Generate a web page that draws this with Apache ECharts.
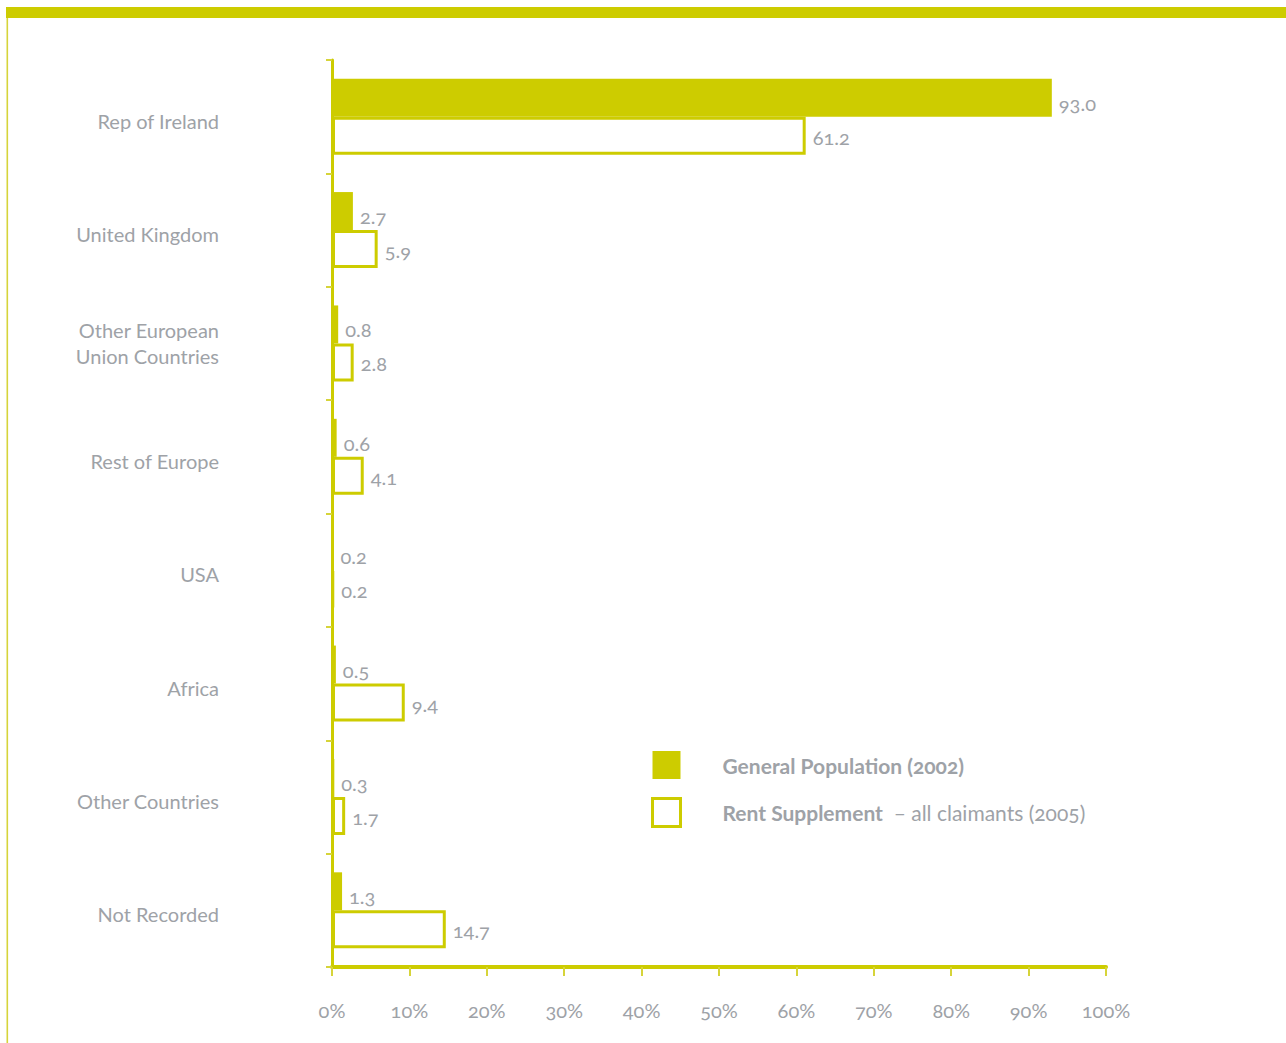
<!DOCTYPE html>
<html>
<head>
<meta charset="utf-8">
<style>
  html, body { margin: 0; padding: 0; background: #fff; }
  #chart { width: 1286px; height: 1043px; }
  #chart text { font-variant-numeric: oldstyle-nums; font-feature-settings: "onum" 1; }
</style>
<script src="https://cdn.jsdelivr.net/npm/echarts@6/dist/echarts.min.js"></script>
</head>
<body>
<div id="chart"></div>
<script>
// Country of birth: general population vs rent supplement claimants (%)
const categories = [
  'Rep of Ireland',
  'United Kingdom',
  'Other European\nUnion Countries',
  'Rest of Europe',
  'USA',
  'Africa',
  'Other Countries',
  'Not Recorded'
];
const generalPopulation = [93.0, 2.7, 0.8, 0.6, 0.2, 0.5, 0.3, 1.3];
const rentSupplement = [61.2, 5.9, 2.8, 4.1, 0.2, 9.4, 1.7, 14.7];
const xTicks = [0, 10, 20, 30, 40, 50, 60, 70, 80, 90, 100];

const olive = '#cdcc00';
const oliveLight = '#d6d43a';
const grey = '#9ea2a7';
const font = 'Lato, "Open Sans", sans-serif';

const chart = echarts.init(document.getElementById('chart'), null, { renderer: 'svg' });

const valueLabel = {
  show: true,
  position: 'right',
  distance: 7,
  color: grey,
  fontFamily: font,
  fontSize: 20,
  formatter: p => p.value.toFixed(1)
};

chart.setOption({
  animation: false,
  backgroundColor: '#fff',
  graphic: [
    { type: 'rect', shape: { x: 6, y: 7, width: 1280, height: 11 }, style: { fill: olive } },
    { type: 'rect', shape: { x: 6.5, y: 18, width: 1.6, height: 1025 }, style: { fill: oliveLight } }
  ],
  grid: { left: 332, top: 60, right: 180, bottom: 76, containLabel: false },
  legend: {
    orient: 'vertical',
    left: 651,
    top: 751,
    padding: 0,
    itemWidth: 28,
    itemHeight: 28,
    itemGap: 18,
    icon: 'rect',
    selectedMode: false,
    textStyle: {
      padding: [0, 0, 0, 37],
      color: grey,
      fontFamily: font,
      fontSize: 21,
      rich: {
        b: { fontWeight: 'bold', color: grey, fontFamily: font, fontSize: 21 },
        n: { color: grey, fontFamily: font, fontSize: 21 }
      }
    },
    formatter: name => name === 'General Population (2002)'
      ? '{b|General Population (2002)}'
      : '{b|Rent Supplement}{n|  – all claimants (2005)}',
    data: [
      { name: 'General Population (2002)', itemStyle: { color: olive, borderWidth: 0 } },
      { name: 'Rent Supplement', itemStyle: { color: '#fff', borderColor: olive, borderWidth: 3 } }
    ]
  },
  xAxis: {
    type: 'value',
    min: 0,
    max: 100,
    interval: 10,
    splitLine: { show: false },
    axisLine: { show: true, lineStyle: { color: olive, width: 4 } },
    axisTick: { show: true, length: 9, lineStyle: { color: oliveLight, width: 2 } },
    axisLabel: {
      margin: 33,
      color: grey,
      fontFamily: font,
      fontSize: 20,
      formatter: v => xTicks.includes(v) ? v + '%' : ''
    }
  },
  yAxis: {
    type: 'category',
    inverse: true,
    data: categories,
    axisLine: { show: true, lineStyle: { color: olive, width: 3 } },
    axisTick: { show: true, length: 6, lineStyle: { color: oliveLight, width: 2 } },
    axisLabel: {
      margin: 113,
      color: grey,
      fontFamily: font,
      fontSize: 20,
      lineHeight: 26,
      align: 'right',
      // single-line names sit a little below the band centre
      formatter: v => v.includes('\n') ? v : '{s|' + v + '}',
      rich: {
        s: { color: grey, fontFamily: font, fontSize: 20, lineHeight: 26, align: 'right', padding: [8, 0, 0, 0] }
      }
    }
  },
  series: [
    {
      name: 'General Population (2002)',
      type: 'bar',
      data: generalPopulation,
      barWidth: 38,
      barGap: '0%',
      itemStyle: { color: olive },
      label: Object.assign({}, valueLabel, { offset: [0, 5] })
    },
    {
      name: 'Rent Supplement',
      type: 'bar',
      data: rentSupplement,
      barWidth: 38,
      itemStyle: { color: '#fff', borderColor: olive, borderWidth: 3 },
      label: Object.assign({}, valueLabel, { offset: [0, 1] })
    }
  ]
});
</script>
</body>
</html>
